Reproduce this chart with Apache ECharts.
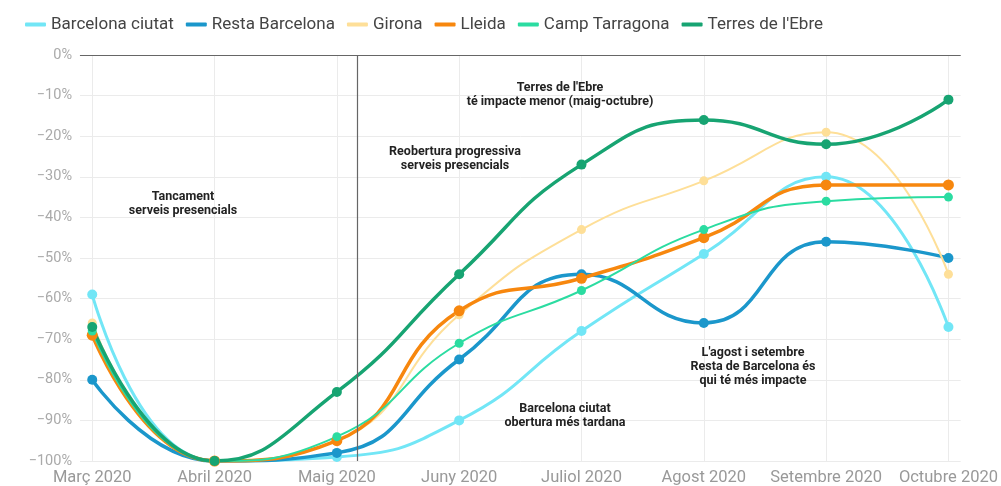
<!DOCTYPE html>
<html>
<head>
<meta charset="utf-8">
<script src="https://cdn.jsdelivr.net/npm/echarts@6/dist/echarts.min.js"></script>
<style>
  html, body { margin: 0; padding: 0; background: #fff; }
  #chart { width: 1001px; height: 486px; }
</style>
</head>
<body>
<div id="chart"></div>
<script>
var months = ['Març 2020', 'Abril 2020', 'Maig 2020', 'Juny 2020', 'Juliol 2020', 'Agost 2020', 'Setembre 2020', 'Octubre 2020'];

var barcelonaCiutat = [-59, -100, -99, -90, -68, -49, -30, -67];
var restaBarcelona = [-80, -100, -98, -75, -54, -66, -46, -50];
var girona = [-66, -100, -95, -64, -43, -31, -19, -54];
var lleida = [-69, -100, -95, -63, -55, -45, -32, -32];
var campTarragona = [-68, -100, -94, -71, -58, -43, -36, -35];
var terresEbre = [-67, -100, -83, -54, -27, -16, -22, -11];

var yTicks = [0, -10, -20, -30, -40, -50, -60, -70, -80, -90, -100];

// posició de la línia vertical (entre maig i juny)
var reobertura = 2.17;

function toPoints(values) {
    return values.map(function (v, i) { return [i, v]; });
}

function makeSeries(name, values, color, width, size) {
    return {
        name: name,
        type: 'line',
        smooth: 0.5,
        data: toPoints(values),
        symbol: 'circle',
        symbolSize: size,
        showSymbol: true,
        lineStyle: { color: color, width: width },
        itemStyle: { color: color },
        emphasis: { disabled: true },
        z: 3
    };
}

var series = [
    makeSeries('Barcelona ciutat', barcelonaCiutat, '#72e6f6', 3, 10),
    makeSeries('Resta Barcelona', restaBarcelona, '#1b97cb', 3.5, 10),
    makeSeries('Girona', girona, '#fedf98', 2, 9),
    makeSeries('Lleida', lleida, '#f7870e', 3.5, 11),
    makeSeries('Camp Tarragona', campTarragona, '#2bdca1', 2, 9),
    makeSeries("Terres de l'Ebre", terresEbre, '#17a472', 3.5, 10)
];

// línies de referència: 0% fosca i línia vertical de reobertura
series[0].markLine = {
    silent: true,
    symbol: 'none',
    label: { show: false },
    data: [
        [{ coord: [-0.1, 0] }, { coord: [7.1, 0] }],
        [{ coord: [reobertura, 0] }, { coord: [reobertura, -100] }]
    ],
    lineStyle: { color: '#666', width: 1.2, type: 'solid' }
};

var annotations = [
    { x: 183, y: 190, text: 'Tancament\nserveis presencials' },
    { x: 455, y: 145, text: 'Reobertura progressiva\nserveis presencials' },
    { x: 560, y: 81, text: "Terres de l'Ebre\nté impacte menor (maig-octubre)" },
    { x: 565, y: 402, text: 'Barcelona ciutat\nobertura més tardana' },
    { x: 753, y: 346, text: "L'agost i setembre\nResta de Barcelona és\nqui té més impacte" }
];

var chart = echarts.init(document.getElementById('chart'), null, { renderer: 'canvas' });
var option = {
    animation: false,
    backgroundColor: '#fff',
    textStyle: { fontFamily: 'Roboto' },
    legend: {
        top: 11,
        left: 20,
        itemWidth: 21,
        itemHeight: 4,
        itemGap: 12,
        icon: 'roundRect',
        textStyle: { color: '#444', fontSize: 17, fontFamily: 'Roboto' },
        data: series.map(function (s) { return s.name; })
    },
    grid: { left: 80, right: 36, top: 55, bottom: 25 },
    xAxis: {
        type: 'value',
        min: -0.1,
        max: 7.1,
        axisLine: { show: true, lineStyle: { color: '#e6e6e6' } },
        axisTick: { show: false, customValues: [0, 1, 2, 3, 4, 5, 6, 7] },
        axisLabel: {
            customValues: [0, 1, 2, 3, 4, 5, 6, 7],
            formatter: function (v) { return months[Math.round(v)]; },
            color: '#999',
            fontSize: 16.5,
            margin: 8
        },
        splitLine: { show: true, lineStyle: { color: '#ebebeb' } }
    },
    yAxis: {
        type: 'value',
        min: -100,
        max: 0,
        interval: 10,
        axisLine: { show: false },
        axisTick: { show: false },
        axisLabel: {
            formatter: function (v) { return v === 0 ? '0%' : '\u2212' + Math.abs(v) + '%'; },
            color: '#aaa',
            fontSize: 14.5,
            margin: 8
        },
        splitLine: { lineStyle: { color: '#ebebeb' } }
    },
    graphic: annotations.map(function (a) {
        return {
            type: 'text',
            x: a.x,
            y: a.y,
            z: 10,
            style: {
                text: a.text,
                align: 'center',
                verticalAlign: 'top',
                fill: '#222',
                font: 'bold 12.5px Roboto',
                lineHeight: 14
            }
        };
    }),
    series: series
};
chart.setOption(option);
</script>
</body>
</html>
